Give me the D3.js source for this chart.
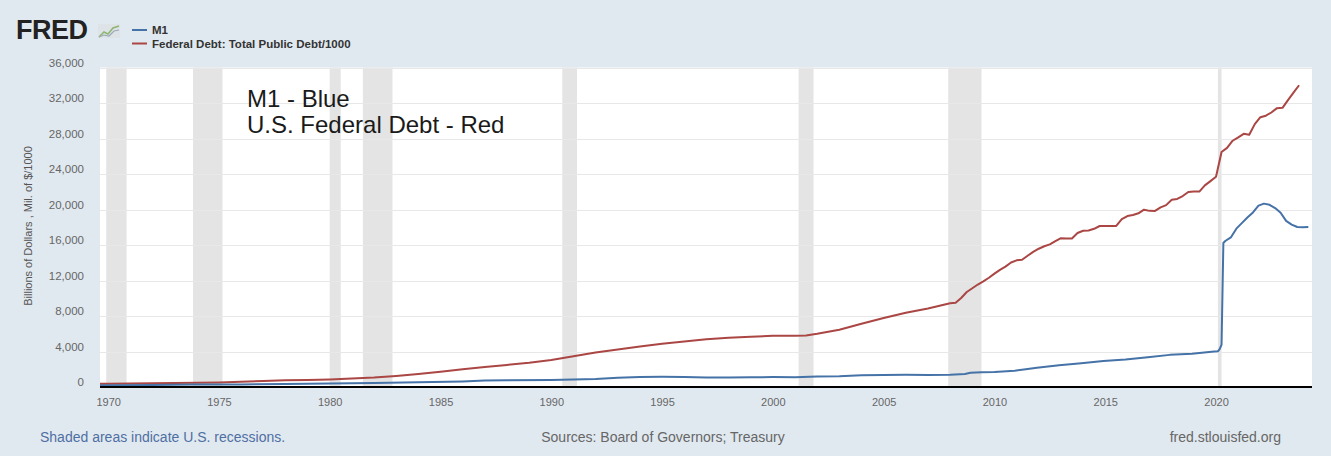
<!DOCTYPE html>
<html><head><meta charset="utf-8">
<script src="https://cdn.jsdelivr.net/npm/d3@7"></script>
<style>
html,body{margin:0;padding:0;background:#e1e9f0;}
svg{display:block;font-family:Arial,"Liberation Sans",sans-serif;}
</style></head>
<body>
<svg id="chart" width="1331" height="456"></svg>
<script>
// ---- data ----
const m1Dates = ["1969-08","1970-01","1972-01","1974-01","1976-01","1978-01","1980-01","1982-01","1984-01","1986-01","1987-01","1988-01","1990-01","1992-01","1993-01","1994-01","1995-01","1996-01","1997-01","1998-01","1999-01","2000-01","2001-01","2002-01","2003-01","2004-01","2005-01","2006-01","2007-01","2008-01","2008-09","2008-12","2009-06","2010-01","2010-12","2011-06","2011-12","2012-12","2013-12","2014-12","2015-12","2016-12","2017-12","2018-12","2019-12","2020-02","2020-03","2020-04","2020-05","2020-06","2020-09","2020-12","2021-03","2021-06","2021-09","2021-12","2022-03","2022-06","2022-09","2022-12","2023-03","2023-06","2023-09","2023-12","2024-03"];
const m1Values = [205,206,235,270,295,340,386,448,526,626,730,750,795,910,1030,1130,1150,1120,1080,1075,1095,1120,1095,1190,1220,1310,1360,1375,1365,1375,1460,1600,1660,1690,1830,2000,2160,2460,2680,2940,3090,3350,3620,3760,3990,4030,4260,4770,16230,16450,16850,17840,18460,19100,19670,20440,20660,20530,20160,19630,18720,18300,18030,17990,18030];

const debtDates = ["1969-07","1970-01","1971-01","1972-01","1973-01","1974-01","1975-01","1976-01","1977-01","1978-01","1979-01","1980-01","1981-01","1982-01","1983-01","1984-01","1985-01","1986-01","1987-01","1988-01","1989-01","1990-01","1991-01","1992-01","1993-01","1994-01","1995-01","1996-01","1997-01","1998-01","1999-01","2000-01","2001-01","2001-07","2002-01","2003-01","2004-01","2005-01","2006-01","2007-01","2008-01","2008-04","2008-07","2008-10","2009-01","2009-04","2009-07","2009-10","2010-01","2010-04","2010-07","2010-10","2011-01","2011-04","2011-07","2011-10","2012-01","2012-04","2012-07","2012-10","2013-01","2013-04","2013-07","2013-10","2014-01","2014-04","2014-07","2014-10","2015-01","2015-04","2015-07","2015-10","2016-01","2016-04","2016-07","2016-10","2017-01","2017-04","2017-07","2017-10","2018-01","2018-04","2018-07","2018-10","2019-01","2019-04","2019-07","2019-10","2020-01","2020-04","2020-07","2020-10","2021-01","2021-04","2021-07","2021-10","2022-01","2022-04","2022-07","2022-10","2023-01","2023-04","2023-07","2023-10"];
const debtValues = [366,372,391,424,456,474,509,599,665,749,797,845,947,1061,1246,1463,1710,2000,2250,2487,2740,3052,3465,3880,4230,4575,4865,5118,5380,5540,5652,5773,5774,5807,6006,6460,7131,7777,8371,8849,9437,9492,10025,10700,11127,11545,11910,12311,12773,13201,13562,14025,14270,14343,14790,15223,15582,15856,16066,16433,16771,16738,16738,17352,17601,17633,17824,18141,18152,18152,18151,18922,19264,19381,19573,19977,19846,19845,20245,20493,21090,21195,21516,21974,22028,22023,22719,23201,23686,26477,26946,27748,28133,28529,28429,29617,30401,30569,30929,31420,31458,32332,33167,34001];

const recessions = [["1969-12","1970-11"],["1973-11","1975-03"],["1980-01","1980-07"],["1981-07","1982-11"],["1990-07","1991-03"],["2001-03","2001-11"],["2007-12","2009-06"],["2020-02","2020-04"]];

const yTicks = [0,4000,8000,12000,16000,20000,24000,28000,32000,36000];
const seriesNames = ["M1","Federal Debt: Total Public Debt/1000"];
const seriesColors = ["#4572a7","#aa4643"];

// ---- layout ----
const svg = d3.select("#chart");
const L = 100, R = 1312, T = 67.5, B = 387;
const parse = d3.timeParse("%Y-%m");
const x = d3.scaleTime().domain([new Date(1969,7,20), new Date(2024,4,1)]).range([L,R]);
const y = d3.scaleLinear().domain([0,36000]).range([B,T]);

svg.append("rect").attr("width",1331).attr("height",456).attr("fill","#e1e9f0");
svg.append("rect").attr("x",L).attr("y",T).attr("width",R-L).attr("height",B-T).attr("fill","#ffffff");

svg.append("defs").append("clipPath").attr("id","clip")
  .append("rect").attr("x",L).attr("y",T-5).attr("width",R-L).attr("height",B-T+5);

// recessions
svg.append("g").selectAll("rect").data(recessions).join("rect")
  .attr("x",d=>x(parse(d[0])))
  .attr("width",d=>x(parse(d[1]))-x(parse(d[0])))
  .attr("y",T).attr("height",B-T).attr("fill","#e4e4e4");

// gridlines
svg.append("g").selectAll("line").data(yTicks.filter(v=>v>0)).join("line")
  .attr("x1",L).attr("x2",R).attr("y1",d=>Math.round(y(d))+0.5).attr("y2",d=>Math.round(y(d))+0.5)
  .attr("stroke","#e8e8e8").attr("stroke-width",1);

// y labels
const yAxis = d3.axisLeft(y).tickValues(yTicks).tickFormat(d3.format(",")).tickSize(0).tickPadding(0);
const gy = svg.append("g").attr("transform",`translate(84,-5)`).call(yAxis);
gy.select(".domain").remove();
gy.selectAll("text").attr("fill","#666").attr("font-size","11.5px").attr("font-family","Arial,'Liberation Sans',sans-serif");

// x labels
const xAxis = d3.axisBottom(x).ticks(d3.timeYear.every(5)).tickFormat(d3.timeFormat("%Y")).tickSize(0).tickPadding(0);
const gx = svg.append("g").attr("transform",`translate(0,${B+11})`).call(xAxis);
gx.select(".domain").remove();
gx.selectAll("text").attr("fill","#666").attr("font-size","11px").attr("font-family","Arial,'Liberation Sans',sans-serif");

// lines
const lineGen = d3.line().x(d=>x(d[0])).y(d=>y(d[1])).curve(d3.curveLinear);
const m1Data = m1Dates.map((d,i)=>[parse(d),m1Values[i]]);
const debtData = debtDates.map((d,i)=>[parse(d),debtValues[i]]);
const lg = svg.append("g").attr("clip-path","url(#clip)");
lg.append("path").datum(debtData).attr("d",lineGen).attr("fill","none").attr("stroke",seriesColors[1]).attr("stroke-width",2).attr("stroke-linejoin","round");
lg.append("path").datum(m1Data).attr("d",lineGen).attr("fill","none").attr("stroke",seriesColors[0]).attr("stroke-width",2).attr("stroke-linejoin","round");

// axis line
svg.append("line").attr("x1",L).attr("x2",R).attr("y1",B).attr("y2",B).attr("stroke","#000").attr("stroke-width",2);

// annotation
svg.append("text").attr("x",247).attr("y",107).attr("font-size","24px").attr("fill","#1a1a1a").text("M1 - Blue");
svg.append("text").attr("x",247).attr("y",133).attr("font-size","24px").attr("fill","#1a1a1a").text("U.S. Federal Debt - Red");

// header: FRED logo
svg.append("text").attr("x",16).attr("y",39).attr("font-size","27px").attr("font-weight","900").attr("fill","#222").attr("letter-spacing","-0.5").text("FRED");
const ic = svg.append("g").attr("transform","translate(98,24)");
ic.append("rect").attr("width",22).attr("height",14).attr("fill","#dde3e6");
ic.append("path").attr("d","M1,13 L6,8 L10,10 L15,4 L21,2").attr("fill","none").attr("stroke","#8fb573").attr("stroke-width",1.5);
ic.append("path").attr("d","M1,13 L6,11 L11,12 L16,7 L21,6").attr("fill","none").attr("stroke","#9aa9b5").attr("stroke-width",1.2);

// legend
const leg = svg.append("g");
seriesNames.forEach((n,i)=>{
  const yy = 30 + i*13.5;
  leg.append("line").attr("x1",132).attr("x2",147).attr("y1",yy).attr("y2",yy).attr("stroke",seriesColors[i]).attr("stroke-width",2);
  leg.append("text").attr("x",152).attr("y",yy+4).attr("font-size","11.5px").attr("font-weight","bold").attr("fill","#333").text(n);
});

// y title
svg.append("text").attr("transform","translate(32,226) rotate(-90)").attr("text-anchor","middle")
  .attr("font-size","11px").attr("fill","#555").text("Billions of Dollars , Mil. of $/1000");

// footer
svg.append("text").attr("x",40).attr("y",442).attr("font-size","14px").attr("fill","#4e6fa3").text("Shaded areas indicate U.S. recessions.");
svg.append("text").attr("x",663).attr("y",442).attr("text-anchor","middle").attr("font-size","14px").attr("fill","#666").text("Sources: Board of Governors; Treasury");
svg.append("text").attr("x",1281).attr("y",442).attr("text-anchor","end").attr("font-size","14px").attr("fill","#666").text("fred.stlouisfed.org");
</script>
</body></html>
